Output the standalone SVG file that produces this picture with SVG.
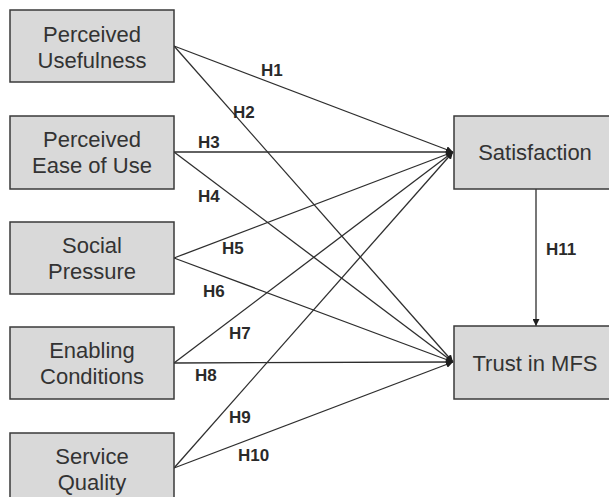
<svg xmlns="http://www.w3.org/2000/svg" width="609" height="497" viewBox="0 0 609 497">
  <style>
    .box { fill: #d9d9d9; stroke: #3a3a3a; stroke-width: 1.5; }
    .lbl { font-family: "Liberation Sans", Arial, sans-serif; font-size: 22px; fill: #333; text-anchor: middle; }
    .h { font-family: "Liberation Sans", Arial, sans-serif; font-size: 17px; font-weight: bold; fill: #2a2a2a; }
    .edge { stroke: #2e2e2e; stroke-width: 1.3; fill: none; marker-end: url(#arrow); }
  </style>
  <defs>
    <marker id="arrow" markerUnits="userSpaceOnUse" markerWidth="8" markerHeight="7" refX="7" refY="3.5" orient="auto">
      <path d="M0,0 L7,3.5 L0,7 Z" fill="#1e1e1e"/>
    </marker>
  </defs>
  <rect width="609" height="497" fill="#ffffff"/>

  <g id="connectors">
    <line class="edge" x1="174" y1="46" x2="453" y2="152"/>
    <line class="edge" x1="174" y1="46" x2="453" y2="362"/>
    <line class="edge" x1="174" y1="152" x2="453" y2="152"/>
    <line class="edge" x1="174" y1="152" x2="453" y2="362"/>
    <line class="edge" x1="174" y1="258" x2="453" y2="152"/>
    <line class="edge" x1="174" y1="258" x2="453" y2="362"/>
    <line class="edge" x1="174" y1="363" x2="453" y2="152"/>
    <line class="edge" x1="174" y1="363" x2="453" y2="362"/>
    <line class="edge" x1="174" y1="468" x2="453" y2="152"/>
    <line class="edge" x1="174" y1="468" x2="453" y2="362"/>
    <line class="edge" x1="536" y1="189" x2="536" y2="326"/>
    <text class="h" x="261" y="76">H1</text>
    <text class="h" x="233" y="118">H2</text>
    <text class="h" x="198" y="148">H3</text>
    <text class="h" x="198" y="202">H4</text>
    <text class="h" x="222" y="254">H5</text>
    <text class="h" x="203" y="297">H6</text>
    <text class="h" x="229" y="339">H7</text>
    <text class="h" x="195" y="381">H8</text>
    <text class="h" x="229" y="423">H9</text>
    <text class="h" x="238" y="461">H10</text>
    <text class="h" x="546" y="255">H11</text>
  </g>

  <g id="perceived-usefulness">
    <rect class="box" x="10" y="10" width="164" height="72"/>
    <text class="lbl" x="92" y="42">Perceived</text>
    <text class="lbl" x="92" y="68">Usefulness</text>
  </g>
  <g id="perceived-ease-of-use">
    <rect class="box" x="10" y="116" width="164" height="73"/>
    <text class="lbl" x="92" y="147">Perceived</text>
    <text class="lbl" x="92" y="173">Ease of Use</text>
  </g>
  <g id="social-pressure">
    <rect class="box" x="10" y="222" width="164" height="72"/>
    <text class="lbl" x="92" y="253">Social</text>
    <text class="lbl" x="92" y="279">Pressure</text>
  </g>
  <g id="enabling-conditions">
    <rect class="box" x="10" y="327" width="164" height="72"/>
    <text class="lbl" x="92" y="358">Enabling</text>
    <text class="lbl" x="92" y="384">Conditions</text>
  </g>
  <g id="service-quality">
    <rect class="box" x="10" y="433" width="164" height="72"/>
    <text class="lbl" x="92" y="464">Service</text>
    <text class="lbl" x="92" y="490">Quality</text>
  </g>
  <g id="satisfaction">
    <rect class="box" x="454" y="116" width="160" height="73"/>
    <text class="lbl" x="535" y="160">Satisfaction</text>
  </g>
  <g id="trust-in-mfs">
    <rect class="box" x="454" y="326" width="160" height="73"/>
    <text class="lbl" x="535" y="371">Trust in MFS</text>
  </g>
</svg>
